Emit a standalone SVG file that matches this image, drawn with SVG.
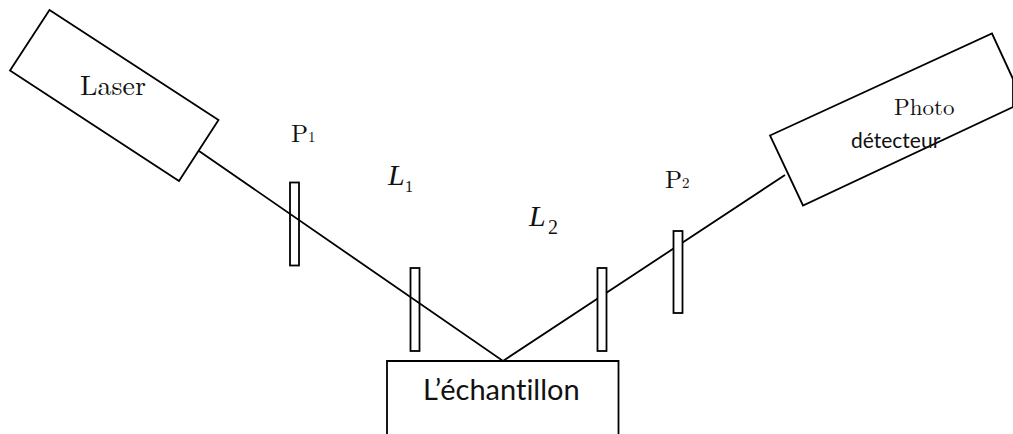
<svg xmlns="http://www.w3.org/2000/svg" width="1013" height="434" viewBox="0 0 1013 434">
<style>
.s{fill:#fff;stroke:#000;stroke-width:1.8}
.o{fill:none;stroke:#000;stroke-width:1.8}
.t{font-family:"Latin Modern Roman","Liberation Serif",serif;fill:#111}
.c{font-family:Lato,"Open Sans","Liberation Sans",sans-serif;fill:#111;font-variant-ligatures:none}
.i{font-family:"Liberation Serif",serif;font-style:italic;font-size:30px;fill:#111}
.n{font-family:"Liberation Serif",serif;fill:#111}
</style>
<rect width="1013" height="434" fill="#fff"/>
<g id="connectors">
<path class="o" d="M199 151L503 361L785 175"/>
</g>
<g id="laser"><path class="s" d="M49.500 10L218.500 120L179 181L10 70.500Z"/><text class="t" x="80" y="95" font-size="28">Laser</text></g>
<g id="p1-plate"><rect class="o" x="290" y="182.500" width="9" height="83"/></g>
<g id="p1-label"><text class="t" x="291" y="142" font-size="25">P<tspan font-size="15">1</tspan></text></g>
<g id="l1-plate"><rect class="o" x="410.500" y="268" width="9" height="83"/></g>
<g id="l1-label"><text class="i" x="388" y="185">L</text><text class="n" x="405" y="192" font-size="16">1</text></g>
<g id="l2-plate"><rect class="s" x="597.500" y="268" width="9" height="83"/></g>
<g id="l2-label"><text class="i" x="529" y="226">L</text><text class="n" x="548" y="234" font-size="20">2</text></g>
<g id="p2-plate"><rect class="s" x="673.500" y="231" width="9" height="82"/></g>
<g id="p2-label"><text class="t" x="665" y="188" font-size="25">P<tspan font-size="15">2</tspan></text></g>
<g id="detector"><path class="s" d="M770 135.500L992 33.500L1013 79V107L803 205.500Z"/><text class="t" x="894" y="115" font-size="23">Photo</text><text class="c" x="851" y="148" font-size="21">détecteur</text></g>
<g id="sample"><path class="s" d="M387 434V361H618.500V434"/><text class="c" x="423" y="400" font-size="29">L’échantillon</text></g>
</svg>
